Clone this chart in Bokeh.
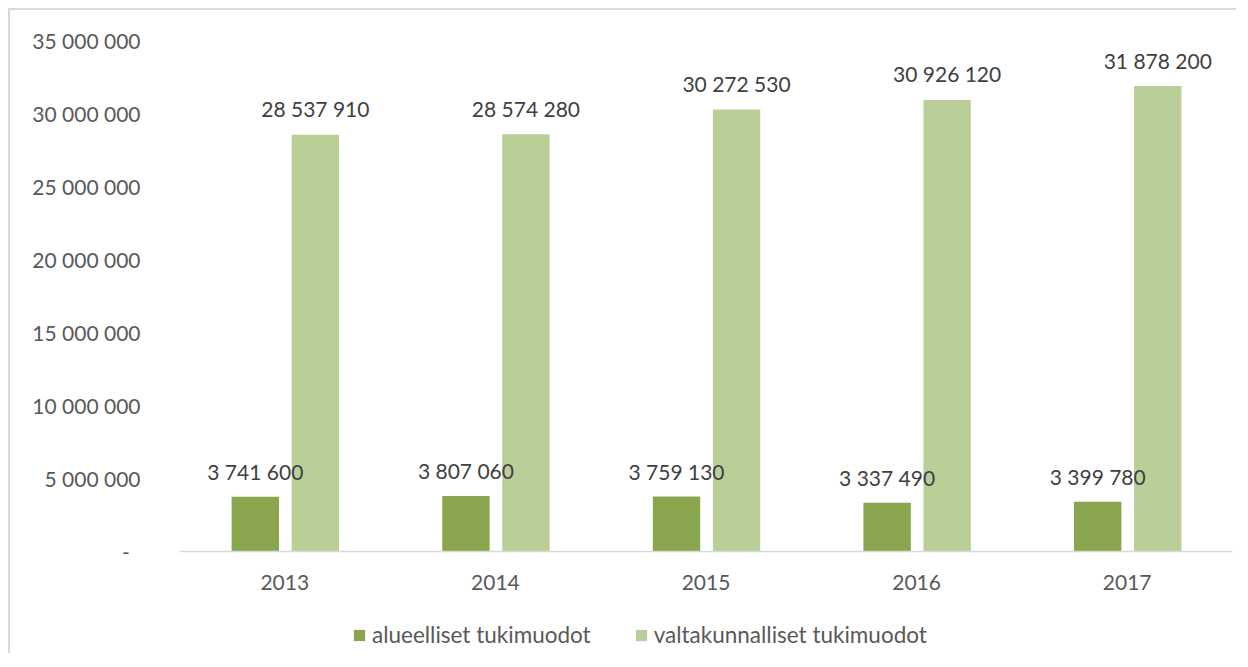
from bokeh.plotting import figure
from bokeh.models import ColumnDataSource, FactorRange, Legend, LegendItem
from bokeh.transform import dodge
from bokeh.core.properties import value
from bokeh.embed import file_html
from bokeh.resources import INLINE

years = ["2013", "2014", "2015", "2016", "2017"]
alueelliset = [3741600, 3807060, 3759130, 3337490, 3399780]
valtakunnalliset = [28537910, 28574280, 30272530, 30926120, 31878200]
series_names = ["alueelliset tukimuodot", "valtakunnalliset tukimuodot"]
ytick_values = [0, 5000000, 10000000, 15000000, 20000000, 25000000, 30000000, 35000000]
ytick_labels = ["-\u00a0\u00a0", "5 000 000", "10 000 000", "15 000 000", "20 000 000",
                "25 000 000", "30 000 000", "35 000 000"]

def fmt(v):
    return "{:,}".format(v).replace(",", " ")

src = ColumnDataSource(dict(
    year=years,
    a=alueelliset,
    v=valtakunnalliset,
    a_lab=[fmt(x) for x in alueelliset],
    v_lab=[fmt(x) for x in valtakunnalliset],
))

FONT = "Lato"
DARK = "#89A54D"
LIGHT = "#BACF97"

# frame extends below the x axis so the legend can sit inside it
p = figure(x_range=FactorRange(*years, range_padding=0), y_range=(-6781000, 35000000),
           width=1228, height=645, output_backend="svg", toolbar_location=None,
           min_border_left=169, min_border_right=6, min_border_top=30, min_border_bottom=5)
p.margin = (8, 0, 0, 8)
p.styles = {"border-top": "2px solid #D9D9D9", "border-left": "2px solid #D9D9D9"}
p.outline_line_color = None
p.xgrid.grid_line_color = None
p.ygrid.grid_line_color = None

r1 = p.vbar(x=dodge("year", -0.14, range=p.x_range), top="a", bottom=0, width=0.225, source=src,
            fill_color=DARK, line_color=None)
r2 = p.vbar(x=dodge("year", 0.145, range=p.x_range), top="v", bottom=0, width=0.225, source=src,
            fill_color=LIGHT, line_color=None)

p.text(x=dodge("year", -0.14, range=p.x_range), y="a", text="a_lab", source=src,
       text_align="center", text_baseline="middle", y_offset=-25,
       text_font=value(FONT), text_font_size="21px", text_color="#404040")
p.text(x=dodge("year", 0.145, range=p.x_range), y="v", text="v_lab", source=src,
       text_align="center", text_baseline="middle", y_offset=-26,
       text_font=value(FONT), text_font_size="21px", text_color="#404040")

p.yaxis.ticker = ytick_values
p.yaxis.major_label_overrides = {v: l for v, l in zip(ytick_values, ytick_labels)}
p.yaxis.axis_line_color = None
p.yaxis.major_tick_line_color = None
p.yaxis.minor_tick_line_color = None
p.yaxis.major_tick_out = 0
p.yaxis.major_tick_in = 0
p.yaxis.major_label_standoff = 39
p.yaxis.major_label_text_font = FONT
p.yaxis.major_label_text_font_size = "21px"
p.yaxis.major_label_text_color = "#595959"

p.xaxis.fixed_location = 0
p.xaxis.axis_line_color = "#D9D9D9"
p.xaxis.axis_line_width = 1.5
p.xaxis.major_tick_line_color = None
p.xaxis.minor_tick_line_color = None
p.xaxis.major_tick_out = 0
p.xaxis.major_tick_in = 0
p.xaxis.major_label_standoff = 24
p.xaxis.major_label_text_font = FONT
p.xaxis.major_label_text_font_size = "21px"
p.xaxis.major_label_text_color = "#595959"

legend = Legend(items=[LegendItem(label=series_names[0], renderers=[r1]),
                       LegendItem(label=series_names[1], renderers=[r2])],
                orientation="horizontal", location=(173, 2),
                padding=0, margin=0, spacing=43,
                glyph_width=14, glyph_height=14, label_standoff=6,
                label_text_font=FONT, label_text_font_size="22.5px", label_text_color="#595959",
                border_line_color=None, background_fill_alpha=0)
p.add_layout(legend, "center")

open("out.html", "w").write(file_html(p, INLINE))
